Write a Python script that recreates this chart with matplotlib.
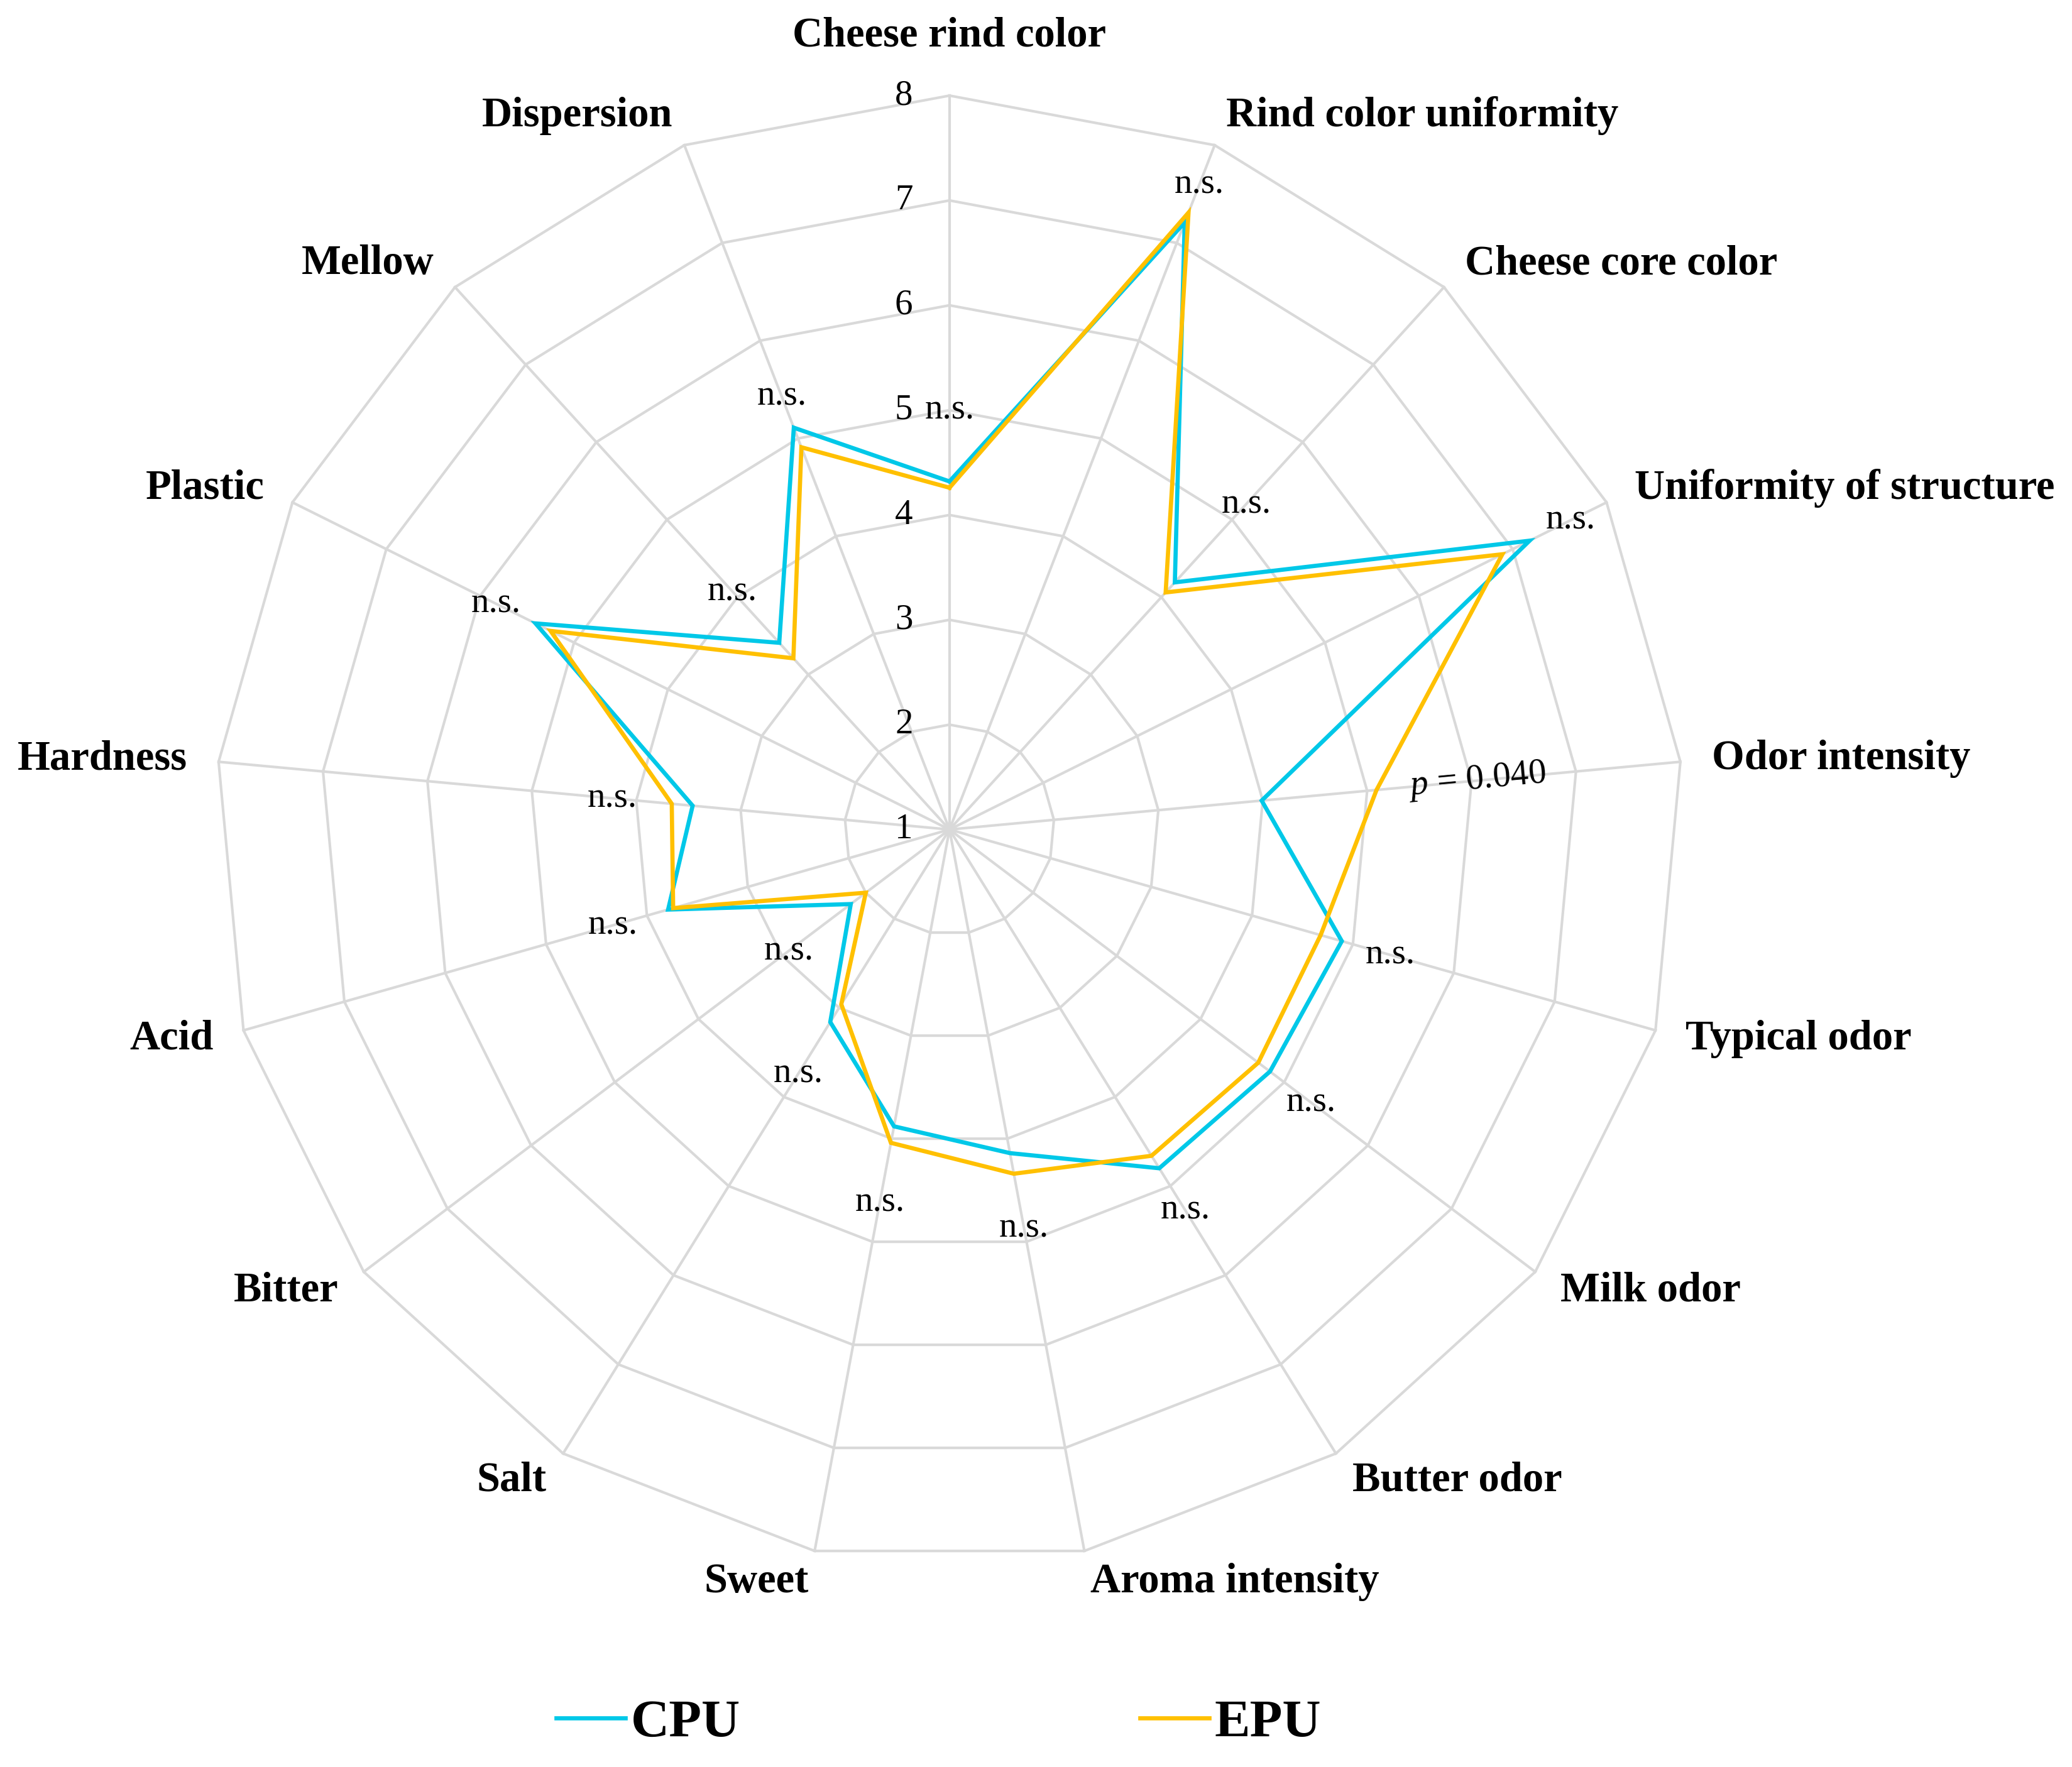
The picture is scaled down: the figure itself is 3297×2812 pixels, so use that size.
import matplotlib
matplotlib.use('Agg')
import matplotlib.pyplot as plt
import numpy as np

plt.rcParams['font.family'] = ['Liberation Serif', 'DejaVu Serif']
plt.rcParams['mathtext.fontset'] = 'custom'
plt.rcParams['mathtext.it'] = 'Liberation Serif:italic'
plt.rcParams['mathtext.rm'] = 'Liberation Serif'

# attributes, clockwise from the top
categories = ["Cheese rind color", "Rind color uniformity", "Cheese core color",
              "Uniformity of structure", "Odor intensity", "Typical odor",
              "Milk odor", "Butter odor", "Aroma intensity", "Sweet", "Salt",
              "Bitter", "Acid", "Hardness", "Plastic", "Mellow", "Dispersion"]
cpu = [4.32, 7.21, 4.19, 7.18, 3.99, 4.89, 4.83, 4.80, 4.14, 3.88, 3.16,
       2.18, 3.79, 3.46, 5.41, 3.41, 5.11]
epu = [4.26, 7.31, 4.06, 6.89, 5.09, 4.68, 4.69, 4.66, 4.34, 4.04, 2.96,
       2.00, 3.74, 3.66, 5.25, 3.21, 4.91]
sig = ["n.s.", "n.s.", "n.s.", "n.s.", "$p$ = 0.040", "n.s.", "n.s.", "n.s.",
       "n.s.", "n.s.", "n.s.", "n.s.", "n.s.", "n.s.", "n.s.", "n.s.", "n.s."]
ring_levels = [1, 2, 3, 4, 5, 6, 7, 8]

# where the significance notes sit (radius on the axis)
sig_r = [5.0, 7.6, 5.2, 7.62, 6.05, 5.37, 5.32, 5.27, 4.87, 4.62, 3.74,
         2.92, 4.34, 4.23, 5.83, 4.07, 5.43]

grid_col = '#D9D9D9'
cpu_col = '#00C8E8'
epu_col = '#FFC000'

n = len(categories)
theta = np.arange(n) * 2 * np.pi / n
theta_c = np.append(theta, theta[0])

fig = plt.figure(figsize=(32.97, 28.12), dpi=100)
ax = fig.add_axes([0.1040, 0.1152, 0.7085, 0.8307], projection='polar')
ax.set_theta_zero_location('N')
ax.set_theta_direction(-1)
ax.set_ylim(1, 8)
ax.grid(False)
ax.spines['polar'].set_visible(False)
ax.set_xticks([])
ax.set_yticks([])

# spider web
for v in ring_levels[1:]:
    ax.plot(theta_c, [v] * (n + 1), color=grid_col, lw=3.0, zorder=1, clip_on=False)
for t in theta:
    ax.plot([t, t], [1, 8], color=grid_col, lw=3.0, zorder=1, clip_on=False)

ax.plot(theta_c, np.append(cpu, cpu[0]), color=cpu_col, lw=4.8, zorder=3,
        solid_joinstyle='miter', label='CPU', clip_on=False)
ax.plot(theta_c, np.append(epu, epu[0]), color=epu_col, lw=4.8, zorder=4,
        solid_joinstyle='miter', label='EPU', clip_on=False)

# radial scale
for v in ring_levels:
    ax.annotate(str(v), xy=(0, v), xytext=(-42, 0), textcoords='offset points',
                ha='right', va='center', fontsize=41, zorder=5)

# category names
for t, name in zip(theta, categories):
    deg = np.degrees(t)
    if deg < 1:
        ax.text(t, 8.57, name, ha='center', va='center', fontsize=48, fontweight='bold')
    elif deg < 180:
        ax.text(t, 8.3, name, ha='left', va='center', fontsize=48, fontweight='bold')
    else:
        ax.text(t, 8.3, name, ha='right', va='center', fontsize=48, fontweight='bold')

# significance notes
for t, r, s in zip(theta, sig_r, sig):
    rot = 90 - np.degrees(t) if s != "n.s." else 0
    ax.text(t, r, s, ha='center', va='center', fontsize=41, rotation=rot, zorder=5)

fig.legend(loc='center', bbox_to_anchor=(0.453, 0.0245), ncol=2, frameon=False,
           prop={'size': 61, 'weight': 'bold'}, handlelength=1.3, handletextpad=0.1,
           columnspacing=7.5)

fig.savefig('out.png', dpi=100, facecolor='white')
